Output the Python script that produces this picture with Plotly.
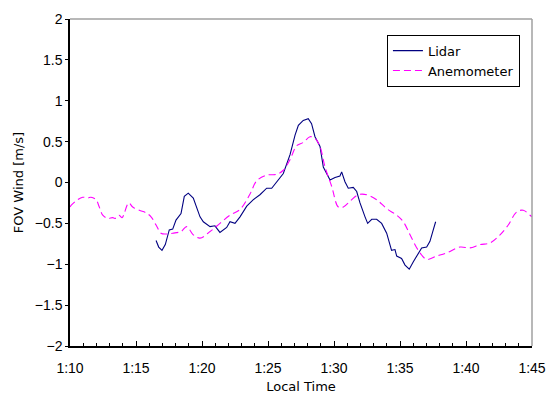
import plotly.graph_objects as go

# time in minutes after 0:00 (1:10 = 70 min)
anem_t = [70.0, 70.08, 70.58, 70.96, 71.34, 71.59, 71.97, 72.22, 72.48, 72.86, 73.23, 73.41, 73.71,
          73.94, 74.45, 74.75, 75.25, 75.76, 76.14, 76.52, 76.89, 77.27, 77.78, 78.41, 78.84,
          79.34, 79.85, 80.61, 81.36, 82.12, 82.88, 83.64, 84.14, 84.90, 85.66, 86.16, 86.67,
          87.17, 87.67, 88.18, 88.56, 88.94, 89.32, 89.83, 90.33, 90.71, 91.21, 91.84, 92.48,
          93.23, 93.99, 94.75, 95.25, 95.76, 96.39, 97.02, 97.78, 98.54, 99.55, 100.30, 101.06,
          101.82, 102.58, 103.20, 103.84, 104.34, 104.85, 105.0]
anem_v = [-0.30, -0.28, -0.21, -0.18, -0.19, -0.18, -0.21, -0.30, -0.40, -0.44, -0.43, -0.44, -0.40,
          -0.43, -0.25, -0.30, -0.34, -0.37, -0.42, -0.52, -0.62, -0.63, -0.62, -0.60, -0.54,
          -0.64, -0.68, -0.60, -0.50, -0.40, -0.33, -0.14, 0.02, 0.09, 0.10, 0.15, 0.28,
          0.45, 0.49, 0.56, 0.54, 0.44, 0.19, -0.05, -0.30, -0.30, -0.23, -0.15, -0.15,
          -0.21, -0.32, -0.40, -0.48, -0.64, -0.83, -0.94, -0.90, -0.86, -0.79, -0.80, -0.76,
          -0.74, -0.64, -0.52, -0.36, -0.34, -0.40, -0.42]

lidar_t = [76.52, 76.72, 76.97, 77.22, 77.52, 77.78, 78.03, 78.41, 78.66, 78.96, 79.34, 79.85,
           80.10, 80.61, 80.98, 81.36, 81.87, 82.12, 82.50, 82.88, 83.39, 83.89, 84.39, 84.90,
           85.28, 85.66, 86.16, 86.67, 87.05, 87.30, 87.67, 88.05, 88.30, 88.56, 88.94, 89.19,
           89.45, 89.70, 90.08, 90.45, 90.58, 90.83, 91.08, 91.46, 91.72, 91.97, 92.35, 92.55,
           92.86, 93.23, 93.61, 93.99, 94.36, 94.62, 94.75, 95.12, 95.38, 95.70, 96.01, 96.39,
           96.64, 97.02, 97.27, 97.52, 97.70]
lidar_v = [-0.71, -0.79, -0.83, -0.76, -0.58, -0.57, -0.46, -0.38, -0.17, -0.13, -0.19, -0.42,
           -0.48, -0.54, -0.53, -0.61, -0.55, -0.48, -0.50, -0.42, -0.29, -0.21, -0.15, -0.07,
           -0.07, 0.01, 0.11, 0.34, 0.58, 0.70, 0.76, 0.78, 0.72, 0.56, 0.44, 0.19,
           0.11, 0.03, 0.06, 0.08, 0.13, 0.01, -0.07, -0.06, -0.11, -0.25, -0.42, -0.50,
           -0.45, -0.45, -0.50, -0.62, -0.83, -0.82, -0.90, -0.93, -1.01, -1.06, -0.97, -0.87,
           -0.80, -0.79, -0.72, -0.58, -0.48]

x_tickvals = [70, 75, 80, 85, 90, 95, 100, 105]
x_ticktext = ["1:10", "1:15", "1:20", "1:25", "1:30", "1:35", "1:40", "1:45"]

TICKFONT = "Liberation Sans, Arial, sans-serif"
TEXTFONT = "DejaVu Sans, sans-serif"

fig = go.Figure()
fig.add_trace(go.Scatter(x=lidar_t, y=lidar_v, mode="lines", name="Lidar",
                         line=dict(color="#000080", width=1.1)))
fig.add_trace(go.Scatter(x=anem_t, y=anem_v, mode="lines", name="Anemometer",
                         line=dict(color="#ff00ff", width=1.1, dash="7px,4px", shape="spline")))

fig.update_layout(
    width=548, height=396,
    margin=dict(l=70, r=16, t=19, b=50, autoexpand=False),
    paper_bgcolor="white", plot_bgcolor="white",
    font=dict(family=TICKFONT, size=14, color="black"),
    showlegend=True,
    legend=dict(x=0.686, y=0.952, xanchor="left", yanchor="top",
                bordercolor="black", borderwidth=1, bgcolor="white",
                font=dict(family=TEXTFONT, size=13), tracegroupgap=0, itemwidth=30),
    xaxis=dict(range=[70, 105], tickvals=x_tickvals, ticktext=x_ticktext,
               ticks="inside", ticklen=5, tickcolor="black", tickwidth=1,
               minor=dict(dtick=1, ticks="inside", ticklen=3, tickcolor="black"),
               showline=True, linecolor="black", linewidth=1.5,
               showgrid=False, zeroline=False, automargin=False,
               tickfont=dict(size=14), ticklabelstandoff=8,
               title=dict(text="Local Time", standoff=7, font=dict(family=TEXTFONT, size=13))),
    yaxis=dict(range=[-2, 2], dtick=0.5, tick0=0,
               ticks="outside", ticklen=3, tickcolor="black",
               showline=True, linecolor="black", linewidth=1.5,
               showgrid=False, zeroline=False, automargin=False,
               tickfont=dict(size=14),
               title=dict(text="FOV Wind [m/s]", standoff=8, font=dict(family=TEXTFONT, size=13))),
    shapes=[
        dict(type="line", xref="paper", yref="paper", x0=0, x1=1, y0=1, y1=1,
             line=dict(color="#a0a0a0", width=1.5)),
        dict(type="line", xref="paper", yref="paper", x0=1, x1=1, y0=0, y1=1,
             line=dict(color="#a0a0a0", width=1.5)),
    ],
)

fig.write_html("out.html", config={"displayModeBar": False},
               post_script="document.body.style.margin='0';document.body.style.overflow='hidden';")
